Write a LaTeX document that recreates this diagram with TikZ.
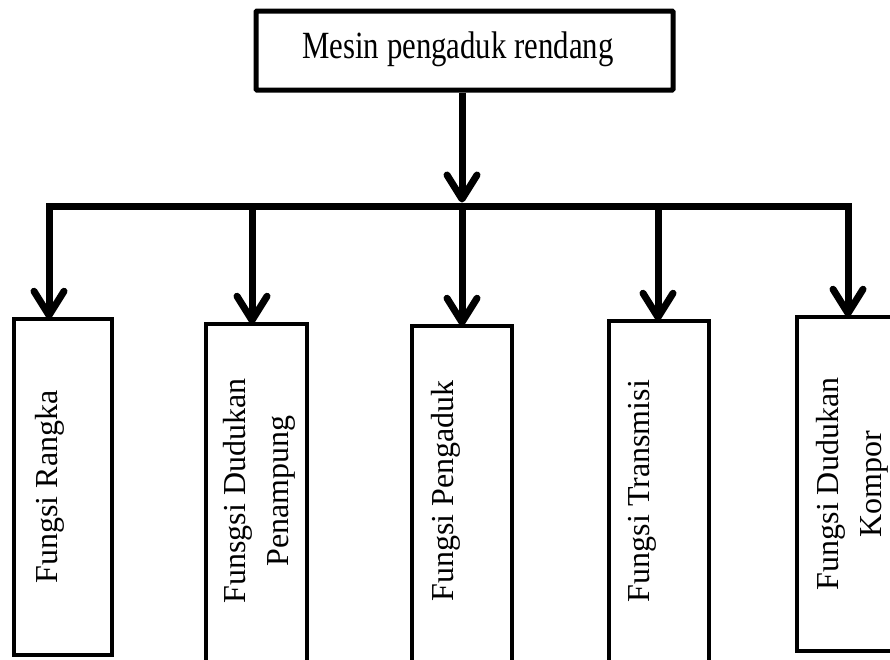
\documentclass[tikz,border=0pt]{standalone}
\usepackage{fontspec}
\usepackage{graphicx}
\setmainfont{Liberation Serif}
\usetikzlibrary{arrows.meta}
\begin{document}
\begin{tikzpicture}[x=1pt,y=-1pt,
  topbox/.style={draw,line width=5pt,rounded corners=1pt,inner sep=0pt},
  funcbox/.style={draw,line width=4.5pt,inner sep=0pt},
  lbl/.style={inner sep=0pt,font=\fontsize{32}{43}\selectfont},
  vlbl/.style={lbl,rotate=90,align=center},
  conn/.style={line width=7pt,line join=miter,
    -{Straight Barb[length=24pt,width=30pt,round]}},
  bus/.style={line width=7pt,line join=miter}]
\useasboundingbox (0,0) rectangle (890,659);

% main block
\node[topbox,minimum width=417pt,minimum height=79pt] (top) at (464.5,50.5) {};
\node[inner sep=0pt,anchor=base] (toptext) at (458,58)
  {\scalebox{0.8}[1]{\fontsize{38.5}{46}\selectfont Mesin pengaduk rendang}};

% sub-function blocks
\node[funcbox,minimum width=98pt,minimum height=336pt]  (b1) at (63,487) {};
\node[funcbox,minimum width=101pt,minimum height=341pt] (b2) at (256.5,494.5) {};
\node[funcbox,minimum width=100pt,minimum height=339pt] (b3) at (462,495.5) {};
\node[funcbox,minimum width=100pt,minimum height=344pt] (b4) at (659,493) {};
\node[funcbox,minimum width=101pt,minimum height=334pt] (b5) at (847.5,484) {};

\node[vlbl,anchor=base] (t1) at (57,487) {Fungsi Rangka};
\node[vlbl,anchor=center] (t2) at (259,491) {Funsgsi Dudukan\\Penampung};
\node[vlbl,anchor=base] (t3) at (453,491) {Fungsi Pengaduk};
\node[vlbl,anchor=base] (t4) at (649,491) {Fungsi Transmisi};
\node[vlbl,anchor=center] (t5) at (852,484) {Fungsi Dudukan\\Kompor};

% distribution bar
\coordinate (hub) at (462,206);
\coordinate (hubtop) at (462,202.5);
\coordinate (barL) at (49,206);
\coordinate (barR) at (848,206);
\coordinate (s2) at (252,206);
\coordinate (s3) at (462,206);
\coordinate (s4) at (658,206);

\draw[conn] (top.south -| hub) -- (hubtop);
\draw[conn] (hub) -- (barL) -- ([yshift=-2pt]b1.north -| barL);
\draw[conn] (hub) -- (barR) -- ([yshift=-2pt]b5.north -| barR);
\draw[conn] (s2) -- ([yshift=-2pt]b2.north -| s2);
\draw[conn] (s3) -- ([yshift=-2pt]b3.north -| s3);
\draw[conn] (s4) -- ([yshift=-2pt]b4.north -| s4);
\end{tikzpicture}
\end{document}
